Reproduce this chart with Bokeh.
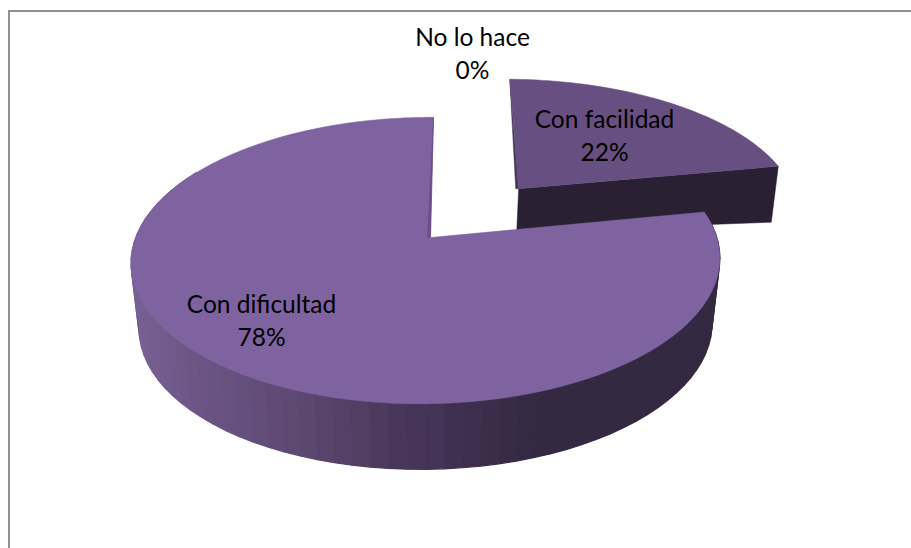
import numpy as np
from bokeh.plotting import figure
from bokeh.models import Range1d
from bokeh.core.properties import value
from bokeh.embed import file_html
from bokeh.resources import INLINE

labels = ["Con facilidad", "Con dificultad", "No lo hace"]
shares = [22, 78, 0]

# view of the pie, in page pixels
CX, CY, RX, RY, K, M = 430.0, 237.0, 290.5, 139.5, 0.161, 0.015
SHEAR_X, SHEAR_Y = -3.5, -0.5
LOWER_DY, LOWER_RX = 65.5, 0.973
EXPLODE, EXPLODE_DV, EXPLODE_SCALE = 0.50, 0.014, 1.022
FRAME = "#8f8f8f"
TOP_MAIN, TOP_EXPL, SIDE_EXPL = "#7f63a1", "#684f82", "#2a2033"
SLIVER_MAIN, SLIVER_EXPL = "#6a4f86", "#46365a"
SIDE_STOPS_X = [130, 200, 300, 400, 480, 540, 720]
SIDE_STOPS_RGB = [(122, 98, 150), (108, 85, 133), (93, 72, 113), (72, 55, 90), (60, 45, 75), (51, 41, 64), (51, 41, 64)]
W, H = 911, 548


def project(u, v, lower=False, off=(0.0, 0.0)):
    u, v = np.asarray(u, float) + off[0], np.asarray(v, float) + off[1]
    w = 1 - K * v + M * u
    rx = RX * (LOWER_RX if lower else 1.0)
    dy = LOWER_DY if lower else 0.0
    return CX + (rx * u + SHEAR_X * v) / w, CY + dy + (RY * v + SHEAR_Y * u) / w


def rim(a0, a1, n):
    a = np.radians(np.linspace(a0, a1, n))
    return np.sin(a), -np.cos(a)


edges = np.cumsum([0] + shares) / sum(shares) * 360.0
a_expl0, a_expl1, a_main1 = edges[0], edges[1], edges[2]
mid = np.radians((a_expl0 + a_expl1) / 2)
off = (EXPLODE * np.sin(mid), -EXPLODE * np.cos(mid) + EXPLODE_DV)

p = figure(width=W, height=H, output_backend="svg", toolbar_location=None,
           x_range=Range1d(0, W), y_range=Range1d(H, 0),
           min_border=0, outline_line_color=None)
p.axis.visible = False
p.grid.visible = False
p.background_fill_color = "white"
p.border_fill_color = "white"

# frame
p.line([8.5, 8.5], [10.5, H], line_color=FRAME, line_width=2)
p.line([7.5, W], [10.5, 10.5], line_color=FRAME, line_width=2)

# exploded slice: side, inner sliver, top
ue, ve = rim(a_expl0, a_expl1, 60)
ex, ey = project(ue * EXPLODE_SCALE, ve * EXPLODE_SCALE, off=off)
ax, ay = project(0.0, 0.0, off=off)
p.patch([float(ax), ex[-1], ex[-1] - 7, float(ax) - 2],
        [float(ay), ey[-1], ey[-1] + 56, float(ay) + 43],
        fill_color=SIDE_EXPL, line_color=SIDE_EXPL, line_width=0.5)
p.patch([ex[0], float(ax), float(ax) - 3], [ey[0], float(ay), float(ay)],
        fill_color=SLIVER_EXPL, line_color=SLIVER_EXPL, line_width=0.5)
p.patch([float(ax)] + list(ex), [float(ay)] + list(ey),
        fill_color=TOP_EXPL, line_color=TOP_EXPL, line_width=0.5)

# main slice: side strips, then top
n_side = 70
um, vm = rim(a_expl1, 300, n_side + 1)
tx, ty = project(um, vm)
bx, by = project(um, vm, lower=True)
stops = np.array(SIDE_STOPS_RGB, float)
xs, ys, cols = [], [], []
for i in range(n_side):
    xs.append([tx[i], tx[i + 1], bx[i + 1], bx[i]])
    ys.append([ty[i], ty[i + 1], by[i + 1], by[i]])
    xc = (bx[i] + bx[i + 1]) / 2
    c = [int(round(np.interp(xc, SIDE_STOPS_X, stops[:, j]))) for j in range(3)]
    cols.append("#%02x%02x%02x" % tuple(c))
p.patches(xs, ys, fill_color=cols, line_color=cols, line_width=1.2)

uf, vf = rim(a_expl1, a_main1, 220)
fx, fy = project(uf, vf)
cx0, cy0 = project(0.0, 0.0)
p.patch([float(cx0)] + list(fx), [float(cy0)] + list(fy),
        fill_color=TOP_MAIN, line_color=TOP_MAIN, line_width=0.5)
p.patch([fx[-1], float(cx0), float(cx0) - 3], [fy[-1], float(cy0), float(cy0)],
        fill_color=SLIVER_MAIN, line_color=SLIVER_MAIN, line_width=0.5)

# labels
label_x = [604, 261, 472]
label_y = [118, 303, 36]
for name, share, x, y in zip(labels, shares, label_x, label_y):
    for line, yy in ((name, y), ("%d%%" % share, y + 33)):
        p.text([x], [yy], text=[line], text_font=value("Lato"), text_font_size="24.5px",
               text_color="#000000", text_align="center", text_baseline="middle")

open("out.html", "w").write(file_html(p, INLINE))
